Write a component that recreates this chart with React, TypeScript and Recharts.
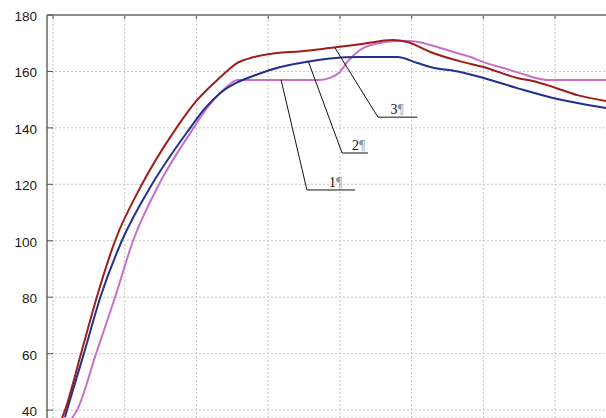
import React from "react";
import {
  LineChart, Line, XAxis, YAxis, CartesianGrid, ReferenceLine, ReferenceDot
} from "recharts";

// x in arbitrary units (grid every 10), y
const curve1 = [
  { x: 2.65, y: 37.2 }, { x: 3.35, y: 40 }, { x: 6.0, y: 60 }, { x: 8.65, y: 80 },
  { x: 11.16, y: 100 }, { x: 14.78, y: 120 }, { x: 19.6, y: 140 },
  { x: 21.3, y: 146.5 }, { x: 24.0, y: 154 }, { x: 25.7, y: 157 }, { x: 37.2, y: 157 },
  { x: 38.6, y: 157.7 }, { x: 40.0, y: 159.8 }, { x: 41.0, y: 163.3 }, { x: 42.8, y: 167.6 },
  { x: 45.6, y: 170.1 }, { x: 48.0, y: 170.8 }, { x: 49.8, y: 170.8 }, { x: 52.6, y: 169.4 },
  { x: 55.8, y: 166.9 }, { x: 58.2, y: 165.1 }, { x: 60.0, y: 163.3 }, { x: 62.8, y: 161.2 },
  { x: 65.1, y: 159.4 }, { x: 68.9, y: 157 }, { x: 77.1, y: 157 },
];

const curve2 = [
  { x: 1.67, y: 37.5 }, { x: 1.95, y: 40 }, { x: 4.3, y: 60 }, { x: 6.6, y: 80 },
  { x: 9.6, y: 100 }, { x: 13.8, y: 120 }, { x: 18.9, y: 139.2 },
  { x: 21.2, y: 147 }, { x: 23.3, y: 152.3 }, { x: 25.6, y: 156 }, { x: 27.9, y: 158.4 },
  { x: 31.7, y: 161.6 }, { x: 35.6, y: 163.5 }, { x: 38.6, y: 164.6 },
  { x: 42.8, y: 165.1 }, { x: 48.0, y: 165.1 }, { x: 50.8, y: 163 }, { x: 52.6, y: 161.6 },
  { x: 56.8, y: 159.8 }, { x: 60.0, y: 157.7 }, { x: 64.7, y: 154.1 }, { x: 69.7, y: 150.6 },
  { x: 73.1, y: 148.8 }, { x: 77.1, y: 147 },
];

const curve3 = [
  { x: 1.26, y: 37.2 }, { x: 1.67, y: 40 }, { x: 3.9, y: 60 }, { x: 6.1, y: 80 },
  { x: 8.65, y: 100 }, { x: 12.4, y: 120 }, { x: 17.0, y: 139.2 },
  { x: 20.1, y: 149.9 }, { x: 22.9, y: 157 }, { x: 24.2, y: 160 }, { x: 25.7, y: 163 },
  { x: 27.9, y: 165 }, { x: 31.2, y: 166.5 }, { x: 34.4, y: 167.1 }, { x: 38.6, y: 168.3 },
  { x: 42.8, y: 169.6 }, { x: 47.4, y: 171.1 }, { x: 49.4, y: 170.4 }, { x: 52.6, y: 166.9 },
  { x: 57.2, y: 163.3 }, { x: 60.0, y: 161.6 }, { x: 64.7, y: 157.7 }, { x: 66.9, y: 156.6 },
  { x: 69.7, y: 154.5 }, { x: 73.1, y: 151.6 }, { x: 77.1, y: 149.5 },
];

const xTicks = [0, 10, 20, 30, 40, 50, 60, 70];
const yTicks = [40, 60, 80, 100, 120, 140, 160, 180];
const X_MIN = -0.84;
const X_MAX = 77.1;
const Y_MIN = 37.2;
const Y_MAX = 180;

// leader lines: start on curve, elbow, end of the underline; label anchor
const callouts = [
  { name: "1", from: { x: 31.8, y: 157 }, elbow: { x: 35.4, y: 118 }, end: 42.1, label: { x: 39.4, y: 118.9 } },
  { name: "2", from: { x: 35.6, y: 163.5 }, elbow: { x: 40.3, y: 131.1 }, end: 43.9, label: { x: 42.6, y: 132.1 } },
  { name: "3", from: { x: 39.3, y: 168.4 }, elbow: { x: 45.3, y: 143.8 }, end: 50.8, label: { x: 48.0, y: 144.8 } },
];

const AXIS = "#8c8c8c";
const GRID = "#c4c4c4";

// y tick: label outside, short tick mark inside the plot
const YTick = (p: any) => (
  <g>
    <line x1={p.x + 10} x2={p.x + 16} y1={p.y} y2={p.y} stroke="#555" />
    <text x={p.x} y={p.y} dy={6} textAnchor="end" fontSize={13.5} fill="#1a1a1a"
      fontFamily="Liberation Sans, Arial, sans-serif">{p.payload.value}</text>
  </g>
);

export default function App() {
  return (
    <div style={{ position: "absolute", left: 0, top: 0, width: 606, height: 418, overflow: "hidden", background: "#fff" }}>
      <LineChart width={606} height={418} margin={{ top: 15, right: 0, left: 0, bottom: 0 }}>
        <CartesianGrid stroke={GRID} strokeDasharray="2 2" vertical={false} />
        <XAxis
          dataKey="x"
          type="number"
          domain={[X_MIN, X_MAX]}
          ticks={xTicks}
          allowDataOverflow
          hide
        />
        <YAxis
          type="number"
          domain={[Y_MIN, Y_MAX]}
          ticks={yTicks}
          interval={0}
          allowDataOverflow
          width={47}
          tickSize={0}
          tickMargin={10}
          axisLine={false}
          tickLine={false}
          tick={<YTick />}
        />
        {xTicks.map((t) => (
          <ReferenceLine key={"g" + t} x={t} stroke={GRID} strokeDasharray="2 2" />
        ))}
        {xTicks.map((t) => (
          <ReferenceLine key={"k" + t} segment={[{ x: t, y: Y_MAX }, { x: t, y: 178.6 }]} stroke="#555" />
        ))}
        <ReferenceLine x={X_MIN} stroke={AXIS} strokeWidth={2} />
        <ReferenceLine y={Y_MAX} stroke={AXIS} strokeWidth={2} />
        <Line data={curve1} dataKey="y" type="monotone" stroke="#c870c8" strokeWidth={2} dot={false} isAnimationActive={false} />
        <Line data={curve2} dataKey="y" type="monotone" stroke="#22308f" strokeWidth={2} dot={false} isAnimationActive={false} />
        <Line data={curve3} dataKey="y" type="monotone" stroke="#9e1c1c" strokeWidth={2} dot={false} isAnimationActive={false} />
        {callouts.map((c) => (
          <ReferenceLine
            key={"a" + c.name}
            segment={[c.from, c.elbow]}
            stroke="#111"
            strokeWidth={1}
          />
        ))}
        {callouts.map((c) => (
          <ReferenceLine
            key={"b" + c.name}
            segment={[c.elbow, { x: c.end, y: c.elbow.y }]}
            stroke="#111"
            strokeWidth={1}
          />
        ))}
        {callouts.map((c) => (
          <ReferenceDot
            key={"t" + c.name}
            x={c.label.x}
            y={c.label.y}
            r={0}
            shape={(p: any) => (
              <text x={p.cx} y={p.cy} textAnchor="middle" fontSize={14} fontFamily="Liberation Serif, Times New Roman, serif" fill="#111">
                {c.name}
                <tspan fill="#7f9bb0">¶</tspan>
              </text>
            )}
          />
        ))}
      </LineChart>
    </div>
  );
}
